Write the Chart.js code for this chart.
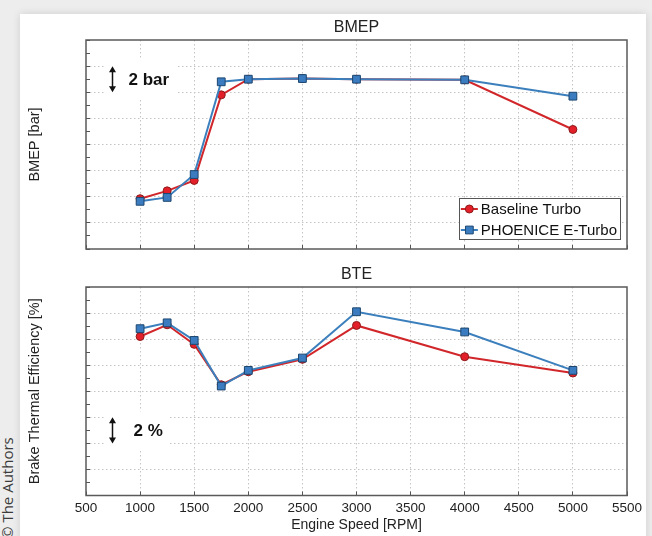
<!DOCTYPE html>
<html>
<head>
<meta charset="utf-8">
<title>BMEP and BTE vs engine speed</title>
<script src="https://cdn.jsdelivr.net/npm/chart.js@4.4.1/dist/chart.umd.min.js"></script>
<style>
  html, body { margin: 0; padding: 0; }
  body {
    width: 652px; height: 536px; position: relative; overflow: hidden;
    background: #ededed;
  }
  .card {
    position: absolute; left: 20px; top: 14px; width: 626px; height: 560px;
    background: #fff; box-shadow: 0 0 8px rgba(0, 0, 0, 0.13);
  }
  canvas { position: absolute; left: 0; }
  #bmepChart { top: 0; }
  #bteChart { top: 262px; }
  .credit {
    position: absolute; left: 0; top: 539px;
    transform: rotate(-90deg); transform-origin: 0 0;
    font: 15px "Open Sans", sans-serif; line-height: 14px;
    color: #3c3c3c; white-space: nowrap;
  }
</style>
</head>
<body>
<div class="card"></div>
<div class="credit">© The Authors</div>
<canvas id="bmepChart" width="652" height="262"></canvas>
<canvas id="bteChart" width="652" height="274"></canvas>
<script>
// engine speed sweep [RPM]
const rpm = [1000, 1250, 1500, 1750, 2000, 2500, 3000, 4000, 5000];
const rpmTicks = [500, 1000, 1500, 2000, 2500, 3000, 3500, 4000, 4500, 5000, 5500];

// BMEP [bar]
const bmepBaseline = [11.85, 12.45, 13.25, 19.8, 21.0, 21.05, 21.0, 20.95, 17.15];
const bmepEturbo = [11.65, 11.95, 13.7, 20.8, 21.0, 21.05, 21.0, 20.95, 19.7];
const bmepRange = [8, 24];

// brake thermal efficiency [%]
const bteBaseline = [36.2, 37.1, 35.6, 32.5, 33.5, 34.45, 37.05, 34.65, 33.4];
const bteEturbo = [36.8, 37.25, 35.9, 32.4, 33.6, 34.55, 38.1, 36.55, 33.6];
const bteRange = [24, 40];

const seriesNames = ['Baseline Turbo', 'PHOENICE E-Turbo'];

const FONT = '"Liberation Sans", Arial, Helvetica, sans-serif';
const GRID = '#c4c4c4';
const NONE = 'rgba(0,0,0,0)';

const redStyle = {
  borderColor: '#d1272b', pointBackgroundColor: '#e3202a', pointBorderColor: '#8e1a1a',
  pointStyle: 'circle', pointRadius: 4
};
const blueStyle = {
  borderColor: '#3c7fbd', pointBackgroundColor: '#3a7cbf', pointBorderColor: '#1d4770',
  pointStyle: 'rect', pointRadius: 5.5
};

function toPoints(values) {
  return rpm.map((r, i) => ({ x: r, y: values[i] }));
}

// frame, panel title, "scale bar" arrow and the in-plot legend
const panelDecor = {
  id: 'panelDecor',
  beforeDatasetsDraw(chart, args, opts) {
    const { ctx, chartArea: a, scales: { x, y } } = chart;
    ctx.save();

    const m = opts.mark;
    const ax = Math.round(x.getPixelForValue(m.rpm)) + 0.5;
    const yTop = y.getPixelForValue(m.to);
    const yBot = y.getPixelForValue(m.from);
    ctx.font = 'bold 17px ' + FONT;
    const tx = ax + m.textGap;
    const tw = ctx.measureText(m.label).width;
    ctx.fillStyle = '#fff';
    ctx.fillRect(ax - 8, yTop - 6, tx + tw + 7 - (ax - 8), yBot - yTop + 12);

    ctx.strokeStyle = '#111';
    ctx.fillStyle = '#111';
    ctx.lineWidth = 1.5;
    ctx.beginPath();
    ctx.moveTo(ax, yTop + 4);
    ctx.lineTo(ax, yBot - 4);
    ctx.stroke();
    ctx.beginPath();
    ctx.moveTo(ax, yTop);
    ctx.lineTo(ax - 3.5, yTop + 6);
    ctx.lineTo(ax + 3.5, yTop + 6);
    ctx.closePath();
    ctx.moveTo(ax, yBot);
    ctx.lineTo(ax - 3.5, yBot - 6);
    ctx.lineTo(ax + 3.5, yBot - 6);
    ctx.closePath();
    ctx.fill();

    ctx.textAlign = 'left';
    ctx.textBaseline = 'middle';
    ctx.fillText(m.label, tx, (yTop + yBot) / 2 + 1);

    ctx.strokeStyle = '#5a5a5a';
    ctx.lineWidth = 1.5;
    ctx.strokeRect(a.left, a.top, a.right - a.left, a.bottom - a.top);

    ctx.fillStyle = '#222';
    ctx.font = '16px ' + FONT;
    ctx.textAlign = 'center';
    ctx.fillText(opts.title, (a.left + a.right) / 2, a.top - 12.5);
    ctx.restore();
  },
  afterDatasetsDraw(chart, args, opts) {
    if (!opts.legend) return;
    const { ctx, chartArea: a } = chart;
    const sets = chart.data.datasets;
    ctx.save();
    ctx.font = '15px ' + FONT;
    const textW = Math.max(...sets.map(d => ctx.measureText(d.label).width));
    const rowH = 21;
    const w = 22 + textW + 3;
    const h = 41;
    const right = a.right - 7;
    const bottom = a.bottom - 10;
    const left = right - w;
    const top = bottom - h;
    ctx.fillStyle = '#fff';
    ctx.fillRect(left, top, w, h);
    ctx.strokeStyle = '#555';
    ctx.lineWidth = 1;
    ctx.strokeRect(Math.round(left) + 0.5, Math.round(top) + 0.5, Math.round(w), h);

    sets.forEach((d, i) => {
      const cy = top + 11 + i * rowH;
      ctx.strokeStyle = d.borderColor;
      ctx.lineWidth = d.borderWidth;
      ctx.beginPath();
      ctx.moveTo(left + 2, cy);
      ctx.lineTo(left + 19, cy);
      ctx.stroke();
      ctx.fillStyle = d.pointBackgroundColor;
      ctx.strokeStyle = d.pointBorderColor;
      ctx.lineWidth = 1;
      Chart.helpers.drawPoint(ctx, { pointStyle: d.pointStyle, radius: d.pointRadius, rotation: 0, borderWidth: 1 }, left + 10.5, cy);
      ctx.fillStyle = '#111';
      ctx.textAlign = 'left';
      ctx.textBaseline = 'middle';
      ctx.fillText(d.label, left + 22, cy + 0.5);
    });
    ctx.restore();
  }
};

function makeChart(id, cfg) {
  const [yMin, yMax] = cfg.range;
  const datasets = [
    Object.assign({ label: seriesNames[0], data: toPoints(cfg.baseline), order: 2 }, redStyle),
    Object.assign({ label: seriesNames[1], data: toPoints(cfg.eturbo), order: 1 }, blueStyle)
  ].map(d => Object.assign(d, { borderWidth: 2, pointBorderWidth: 1, tension: 0, fill: false }));

  return new Chart(document.getElementById(id), {
    type: 'line',
    data: { datasets },
    options: {
      responsive: false,
      animation: false,
      events: [],
      layout: { padding: { left: 20, right: 25, top: cfg.top, bottom: 0 } },
      plugins: {
        legend: { display: false },
        tooltip: { enabled: false },
        panelDecor: { title: cfg.title, mark: cfg.mark, legend: cfg.legend }
      },
      scales: {
        x: {
          type: 'linear',
          min: rpmTicks[0],
          max: rpmTicks[rpmTicks.length - 1],
          afterBuildTicks: s => { s.ticks = rpmTicks.map(value => ({ value })); },
          afterFit: s => { s.height = cfg.xHeight; },
          grid: {
            color: c => (c.tick && (c.tick.value === rpmTicks[0] || c.tick.value === rpmTicks[rpmTicks.length - 1])) ? NONE : GRID,
            tickColor: '#555',
            tickLength: -4,
            lineWidth: 1
          },
          border: { display: false, dash: [1.5, 2.5] },
          ticks: {
            display: cfg.xLabels,
            autoSkip: false,
            maxRotation: 0,
            padding: 8.5,
            color: '#222',
            font: { family: FONT, size: 13.5 },
            callback: v => String(v)
          },
          title: {
            display: cfg.xLabels,
            text: 'Engine Speed [RPM]',
            color: '#222',
            font: { family: FONT, size: 14 },
            padding: { top: 0, bottom: 2 }
          }
        },
        y: {
          min: yMin,
          max: yMax,
          afterFit: s => { s.width = 66; },
          grid: {
            color: c => (c.tick && c.tick.value % 2 === 0 && c.tick.value !== yMin && c.tick.value !== yMax) ? GRID : NONE,
            tickColor: '#555',
            tickLength: -4,
            lineWidth: 1
          },
          border: { display: false, dash: [1.5, 2.5] },
          ticks: { display: false, stepSize: 1 },
          title: {
            display: true,
            text: cfg.yTitle,
            color: '#222',
            font: { family: FONT, size: 14.5 },
            padding: { top: 6.3, bottom: 0 }
          }
        }
      }
    },
    plugins: [panelDecor]
  });
}

makeChart('bmepChart', {
  title: 'BMEP',
  yTitle: 'BMEP [bar]',
  baseline: bmepBaseline,
  eturbo: bmepEturbo,
  range: bmepRange,
  top: 40,
  xHeight: 13,
  xLabels: false,
  legend: true,
  mark: { rpm: 740, from: 20, to: 22, label: '2 bar', textGap: 16 }
});

makeChart('bteChart', {
  title: 'BTE',
  yTitle: 'Brake Thermal Efficiency [%]',
  baseline: bteBaseline,
  eturbo: bteEturbo,
  range: bteRange,
  top: 25,
  xHeight: 40.5,
  xLabels: true,
  legend: false,
  mark: { rpm: 740, from: 28, to: 30, label: '2 %', textGap: 21 }
});
</script>
</body>
</html>
